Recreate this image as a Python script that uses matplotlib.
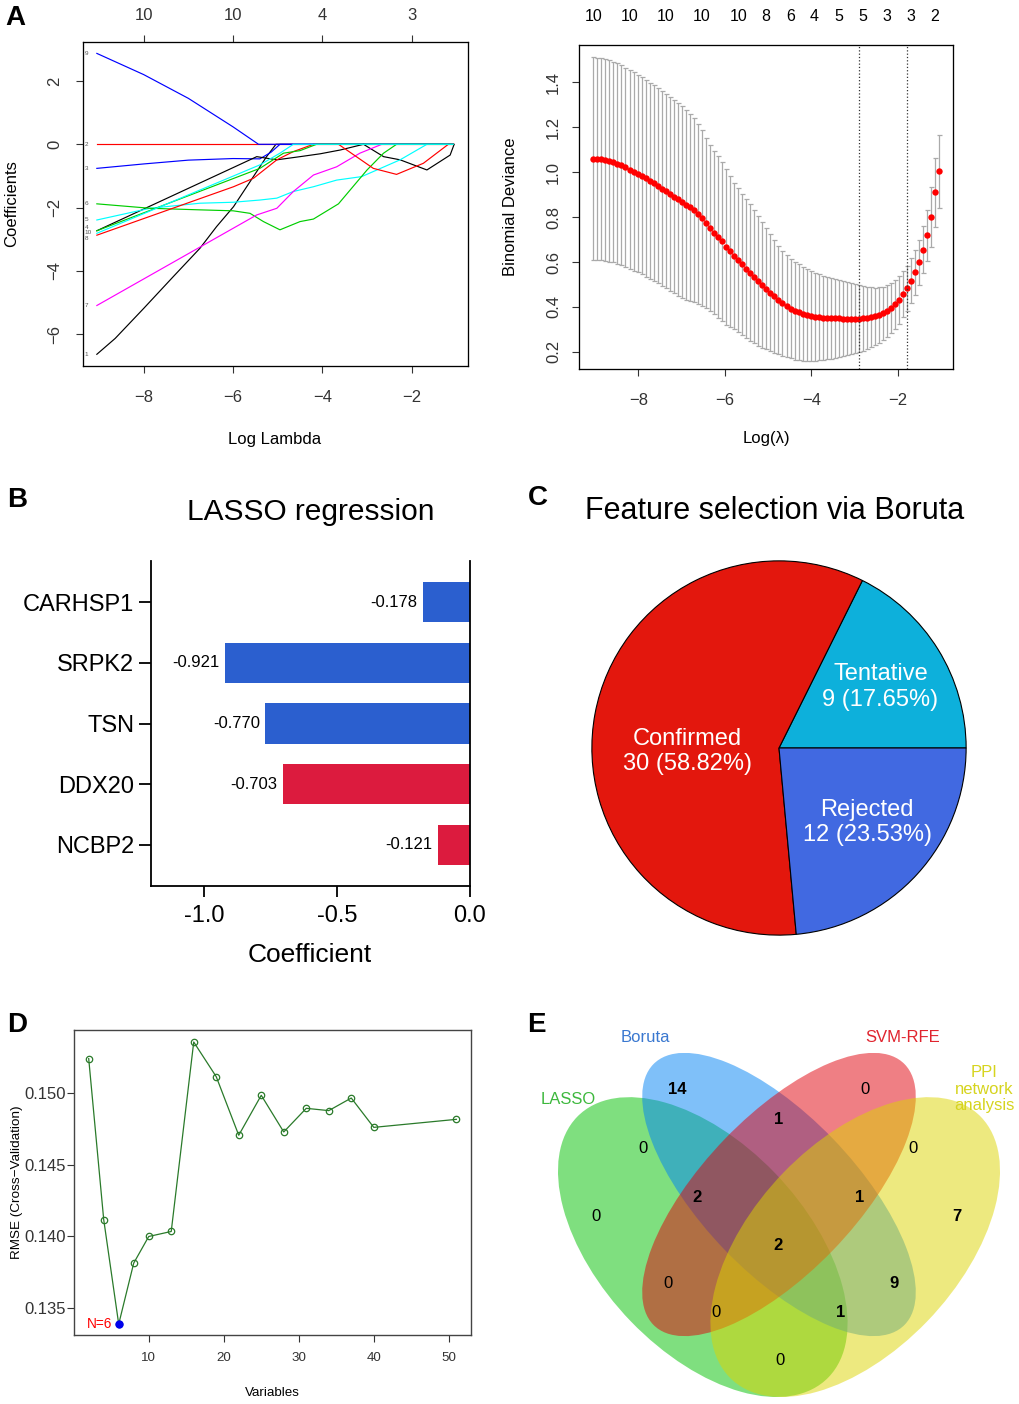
import matplotlib
matplotlib.use('Agg')
import matplotlib.pyplot as plt
from matplotlib.patches import Ellipse

plt.rcParams['font.family'] = ['Liberation Sans', 'DejaVu Sans']
plt.rcParams['axes.unicode_minus'] = True

# ---------------- data ----------------
# A (left): lasso coefficient paths, (log lambda, coefficient) knots per variable
path_x = [
    [-9.05, -8.64, -8.0, -7.34, -6.74, -6.37, -5.99, -5.62, -5.25, -5.04, -1.07],
    [-9.05, -1.07],
    [-9.05, -8.0, -7.0, -6.0, -5.4, -5.15, -4.95, -1.07],
    [-9.05, -5.47, -5.02, -4.5, -4.05, -3.6, -3.08, -2.63, -2.26, -1.66, -1.14, -1.05],
    [-9.05, -7.86, -6.74, -6.0, -5.4, -5.02, -4.65, -4.2, -3.68, -3.12, -2.26, -1.66, -1.07],
    [-9.05, -7.86, -6.74, -6.0, -5.62, -5.32, -4.95, -4.5, -4.2, -3.64, -3.0, -2.63, -2.34, -1.07],
    [-9.05, -5.47, -5.02, -4.65, -4.2, -3.68, -3.16, -2.67, -1.07],
    [-9.05, -5.99, -5.54, -5.02, -4.65, -4.2, -3.64, -2.86, -2.34, -1.74, -1.18, -1.07],
    [-9.05, -8.0, -7.0, -6.0, -5.43, -1.07],
    [-9.05, -5.4, -4.87, -4.5, -4.13, -1.07],
    [-9.05, -5.4, -4.95, -4.65, -1.07],
]
path_y = [
    [-6.63, -6.13, -5.18, -4.18, -3.28, -2.6, -1.97, -1.18, -0.39, 0.0, 0.0],
    [0.0, 0.0],
    [-0.76, -0.62, -0.5, -0.45, -0.46, -0.25, 0.0, 0.0],
    [-2.73, -0.39, -0.49, -0.39, -0.3, -0.18, 0.0, -0.39, -0.49, -0.81, -0.34, 0.0],
    [-2.39, -2.02, -1.86, -1.83, -1.76, -1.7, -1.49, -1.34, -1.13, -1.02, -0.49, 0.0, 0.0],
    [-1.88, -2.02, -2.07, -2.1, -2.18, -2.44, -2.7, -2.44, -2.36, -1.88, -0.81, -0.28, 0.0, 0.0],
    [-5.09, -2.23, -2.02, -1.49, -0.97, -0.71, -0.28, 0.0, 0.0],
    [-2.87, -1.34, -1.07, -0.49, -0.23, 0.0, 0.0, -0.76, -0.95, -0.6, 0.0, 0.0],
    [2.87, 2.2, 1.45, 0.55, 0.0, 0.0],
    [-2.73, -0.76, -0.28, -0.2, 0.0, 0.0],
    [-2.81, -0.65, -0.28, 0.0, 0.0],
]
path_colors = ['black', 'red', 'blue', 'black', 'cyan', '#00CD00', 'magenta',
               'red', 'blue', '#00CD00', 'cyan']
path_labels = ['1', '2', '3', '4', '5', '6', '7', '8', '9', '10', '']
top_df_left = ['10', '10', '4', '3']

# A (right): cross-validated binomial deviance
log_lambda = [
    -9.040, -8.947, -8.854, -8.761, -8.668, -8.575, -8.482, -8.389, -8.296, -8.203,
    -8.110, -8.017, -7.924, -7.831, -7.738, -7.645, -7.552, -7.459, -7.366, -7.273,
    -7.180, -7.087, -6.994, -6.901, -6.808, -6.715, -6.622, -6.529, -6.436, -6.343,
    -6.250, -6.157, -6.064, -5.971, -5.878, -5.785, -5.692, -5.599, -5.506, -5.413,
    -5.320, -5.227, -5.134, -5.041, -4.948, -4.855, -4.762, -4.669, -4.576, -4.483,
    -4.390, -4.297, -4.204, -4.111, -4.018, -3.925, -3.832, -3.739, -3.646, -3.553,
    -3.460, -3.367, -3.274, -3.181, -3.088, -2.995, -2.902, -2.809, -2.716, -2.623,
    -2.530, -2.437, -2.344, -2.251, -2.158, -2.065, -1.972, -1.879, -1.786, -1.693,
    -1.600, -1.507, -1.414, -1.321, -1.228, -1.135, -1.042]
cv_mean = [
    1.060, 1.059, 1.057, 1.054, 1.050, 1.045, 1.038, 1.030, 1.021, 1.011,
    1.002, 0.994, 0.984, 0.973, 0.962, 0.950, 0.939, 0.927, 0.915, 0.903,
    0.891, 0.879, 0.867, 0.855, 0.843, 0.831, 0.815, 0.796, 0.774, 0.752,
    0.731, 0.711, 0.692, 0.668, 0.648, 0.628, 0.609, 0.590, 0.571, 0.553,
    0.535, 0.517, 0.499, 0.481, 0.464, 0.447, 0.431, 0.417, 0.404, 0.393,
    0.384, 0.376, 0.370, 0.365, 0.361, 0.357, 0.354, 0.352, 0.351, 0.350,
    0.349, 0.349, 0.348, 0.348, 0.348, 0.348, 0.348, 0.349, 0.351, 0.354,
    0.358, 0.364, 0.372, 0.382, 0.395, 0.412, 0.433, 0.458, 0.484, 0.517,
    0.554, 0.599, 0.655, 0.719, 0.800, 0.911, 1.003]
cv_sd = [
    0.451, 0.451, 0.450, 0.449, 0.448, 0.447, 0.446, 0.445, 0.444, 0.443,
    0.442, 0.440, 0.439, 0.438, 0.437, 0.436, 0.434, 0.433, 0.432, 0.431,
    0.430, 0.429, 0.427, 0.423, 0.418, 0.410, 0.400, 0.390, 0.378, 0.370,
    0.364, 0.360, 0.355, 0.346, 0.335, 0.325, 0.320, 0.315, 0.310, 0.304,
    0.297, 0.290, 0.280, 0.270, 0.260, 0.250, 0.240, 0.233, 0.227, 0.222,
    0.218, 0.214, 0.210, 0.205, 0.200, 0.196, 0.192, 0.188, 0.184, 0.180,
    0.176, 0.172, 0.168, 0.163, 0.158, 0.153, 0.148, 0.143, 0.138, 0.133,
    0.128, 0.123, 0.118, 0.114, 0.111, 0.109, 0.107, 0.104, 0.100, 0.099,
    0.099, 0.100, 0.104, 0.114, 0.132, 0.154, 0.163]
lambda_min = -2.90
lambda_1se = -1.79
top_df_x = [-9.04, -8.20, -7.37, -6.53, -5.69, -5.05, -4.49, -3.94, -3.37, -2.82, -2.26, -1.70, -1.15]
top_df_right = ['10', '10', '10', '10', '10', '8', '6', '4', '5', '5', '3', '3', '2']

# B: LASSO coefficients
genes = ['CARHSP1', 'SRPK2', 'TSN', 'DDX20', 'NCBP2']
coefs = [-0.178, -0.921, -0.770, -0.703, -0.121]
bar_colors = ['#2B5FCF', '#2B5FCF', '#2B5FCF', '#DC1B3E', '#DC1B3E']

# C: Boruta decisions
pie_labels = ['Tentative', 'Confirmed', 'Rejected']
pie_counts = [9, 30, 12]
pie_pct = ['17.65%', '58.82%', '23.53%']
pie_colors = ['#0DB0DB', '#E3170D', '#4169E1']

# D: SVM-RFE
n_vars = [2, 4, 6, 8, 10, 13, 16, 19, 22, 25, 28, 31, 34, 37, 40, 51]
rmse = [0.15240, 0.14116, 0.13386, 0.13812, 0.13998, 0.14033, 0.15356, 0.15114,
        0.14705, 0.14984, 0.14728, 0.14893, 0.14877, 0.14965, 0.14760, 0.14816]
best_n = 6

# E: Venn region counts
venn_sets = ['LASSO', 'Boruta', 'SVM-RFE', 'PPI\nnetwork\nanalysis']
venn_counts = [0, 14, 0, 7, 0, 1, 0, 2, 1, 2, 0, 9, 0, 1, 0]

# ---------------- figure ----------------
W, H = 1020, 1404
fig = plt.figure(figsize=(W / 100, H / 100), dpi=100)


def px_axes(l, t, r, b):
    return fig.add_axes([l / W, 1 - b / H, (r - l) / W, (b - t) / H])


def ftext(x, y, s, **kw):
    return fig.text(x / W, 1 - y / H, s, **kw)


for lab, x, y in [('A', 5, 25), ('B', 7, 507), ('C', 528, 505), ('D', 7, 1032), ('E', 527, 1032)]:
    ftext(x, y, lab, fontsize=20, fontweight='bold', va='baseline')

box_col = '#333333'

# ---- A left
ax = px_axes(83, 42, 468, 366)
for xs, ys, c in zip(path_x, path_y, path_colors):
    ax.plot(xs, ys, color=c, lw=0.85)
# variable numbers at the left edge; the crowded group near -2.8 is fanned out slightly
lab_y = [-6.63, 0.0, -0.76, -2.62, -2.39, -1.88, -5.09, -2.98, 2.87, -2.80, None]
for lab, ly in zip(path_labels, lab_y):
    if lab:
        ax.text(-9.33, ly, lab, fontsize=4.6, color='#555555', va='center', ha='left')
ax.set_xlim(-9.36, -0.74)
ax.set_ylim(-7.0, 3.23)
ax.set_xticks([-8, -6, -4, -2])
ax.set_yticks([-6, -4, -2, 0, 2])
ax.set_yticklabels(['\u22126', '\u22124', '\u22122', '0', '2'], rotation=90, va='center')
ax.tick_params(direction='out', length=5, width=0.8, labelsize=12, colors=box_col)
ax.tick_params(axis='x', pad=12)
ax.tick_params(axis='y', pad=10)
for s in ax.spines.values():
    s.set_color(box_col)
    s.set_linewidth(0.9)
axt = ax.twiny()
axt.set_xlim(ax.get_xlim())
axt.set_xticks([-8, -6, -4, -2])
axt.set_xticklabels(top_df_left)
axt.tick_params(direction='out', length=5, width=0.8, labelsize=12, pad=9, colors=box_col)
ftext(275, 439, 'Log Lambda', fontsize=12, ha='center', va='center')
ftext(12, 204, 'Coefficients', fontsize=12, ha='center', va='center', rotation=90)

# ---- A right
ax2 = px_axes(579, 45, 953, 369)
ax2.errorbar(log_lambda, cv_mean, yerr=cv_sd, fmt='none', ecolor='#AAAAAA',
             elinewidth=0.9, capsize=1.8, capthick=0.9)
ax2.plot(log_lambda, cv_mean, 'o', color='red', ms=4.6, mec='red', mew=0)
ax2.axvline(lambda_min, color='#333333', ls=':', lw=0.9)
ax2.axvline(lambda_1se, color='#333333', ls=':', lw=0.9)
ax2.set_xlim(-9.37, -0.73)
ax2.set_ylim(0.124, 1.566)
ax2.set_xticks([-8, -6, -4, -2])
ax2.set_yticks([0.2, 0.4, 0.6, 0.8, 1.0, 1.2, 1.4])
ax2.set_yticklabels(['0.2', '0.4', '0.6', '0.8', '1.0', '1.2', '1.4'], rotation=90, va='center')
ax2.tick_params(direction='out', length=5, width=0.8, labelsize=12, colors=box_col)
ax2.tick_params(axis='x', pad=12)
ax2.tick_params(axis='y', pad=8)
for s in ax2.spines.values():
    s.set_color(box_col)
    s.set_linewidth(0.9)
ax2t = ax2.twiny()
ax2t.set_xlim(ax2.get_xlim())
ax2t.set_xticks(top_df_x)
ax2t.set_xticklabels(top_df_right)
ax2t.tick_params(length=0, labelsize=11.5, pad=15)
ftext(766, 438, 'Log(\u03bb)', fontsize=12, ha='center', va='center')
ftext(511, 207, 'Binomial Deviance', fontsize=12, ha='center', va='center', rotation=90)

# ---- B
axb = px_axes(151, 561, 470, 886)
ypos = list(range(len(genes)))
axb.barh(ypos, coefs, height=0.665, color=bar_colors)
for i, v in enumerate(coefs):
    axb.annotate(f'{v:.3f}', (v, i), xytext=(-4, 0), textcoords='offset points',
                 ha='right', va='center', fontsize=12)
axb.set_xlim(-1.2, 0)
axb.set_ylim(4.68, -0.68)
axb.set_yticks(ypos)
axb.set_yticklabels(genes)
axb.set_xticks([-1.0, -0.5, 0.0])
axb.set_xticklabels(['-1.0', '-0.5', '0.0'])
axb.spines['top'].set_visible(False)
for s in ['left', 'bottom', 'right']:
    axb.spines[s].set_linewidth(1.3)
axb.tick_params(axis='x', direction='out', length=8, width=1.3, labelsize=17, pad=6)
axb.tick_params(axis='y', direction='out', length=9, width=1.3, labelsize=17, pad=3)
ftext(311, 512, 'LASSO regression', fontsize=21.5, ha='center', va='center')
ftext(310, 955, 'Coefficient', fontsize=19, ha='center', va='center')

# ---- C
axc = px_axes(590, 559, 968, 937)
axc.pie(pie_counts, colors=pie_colors, startangle=0, counterclock=True, radius=1,
        wedgeprops=dict(edgecolor='black', linewidth=0.8))
axc.set_xlim(-1.01, 1.01)
axc.set_ylim(-1.01, 1.01)
axc.set_aspect('equal')
pie_text_pos = [(0.542, 0.326), (-0.49, -0.018), (0.471, -0.397)]
for (tx, ty), lab, n, p in zip(pie_text_pos, pie_labels, pie_counts, pie_pct):
    axc.text(tx, ty, f'{lab}\n{n} ({p})', color='white', fontsize=17,
             ha='center', va='center', linespacing=1.2)
ftext(775, 511, 'Feature selection via Boruta', fontsize=22, ha='center', va='center')

# ---- D
axd = px_axes(74, 1030, 471, 1335)
axd.plot(n_vars, rmse, '-o', color='#2A7A2A', lw=0.9, ms=4.6, mfc='none', mew=0.9)
bi = n_vars.index(best_n)
axd.plot(n_vars[bi], rmse[bi], 'o', color='#0000EE', ms=5)
axd.annotate(f'N={best_n}', (n_vars[bi], rmse[bi]), xytext=(-5, 0), textcoords='offset points',
             ha='right', va='center', color='red', fontsize=9.8)
axd.set_xlim(0.04, 52.96)
axd.set_ylim(0.1331, 0.1544)
axd.set_xticks([10, 20, 30, 40, 50])
axd.set_yticks([0.135, 0.140, 0.145, 0.150])
axd.set_yticklabels(['0.135', '0.140', '0.145', '0.150'])
axd.tick_params(axis='x', direction='out', length=5, width=0.8, labelsize=9.6, pad=7, colors=box_col)
axd.tick_params(axis='y', direction='out', length=5, width=0.8, labelsize=12, pad=1, colors=box_col)
for s in axd.spines.values():
    s.set_color('#444444')
    s.set_linewidth(1.0)
ftext(272, 1393, 'Variables', fontsize=9.6, ha='center', va='center')
ftext(17, 1182, 'RMSE (Cross\u2212Validation)', fontsize=9.7, ha='center', va='center', rotation=90)

# ---- E
axe = px_axes(558, 1053, 1000, 1397)
axe.set_xlim(0.065, 0.935)
axe.set_ylim(0.185, 0.839)
axe.axis('off')
ell = [((0.35, 0.47), 0.35, 0.20, 135, '#00C100'),
       ((0.50, 0.57), 0.35, 0.15, 135, '#0082F5'),
       ((0.50, 0.57), 0.35, 0.15, 45, '#E1000A'),
       ((0.65, 0.47), 0.35, 0.20, 45, '#DDD500')]
for (cx, cy), a, b, ang, col in ell:
    axe.add_patch(Ellipse((cx, cy), 2 * a, 2 * b, angle=ang, facecolor=col,
                          alpha=0.5, edgecolor='none'))
region_pos = [(0.140, 0.529), (0.299, 0.769), (0.669, 0.769), (0.850, 0.529),
              (0.233, 0.657), (0.499, 0.713), (0.764, 0.657), (0.338, 0.565),
              (0.659, 0.565), (0.499, 0.473), (0.281, 0.400), (0.726, 0.400),
              (0.376, 0.346), (0.621, 0.346), (0.501, 0.254)]
for (rx, ry), n in zip(region_pos, venn_counts):
    axe.text(rx, ry, str(n), fontsize=12, ha='center', va='center',
             fontweight='bold' if n > 0 else 'normal')
set_text = [(568, 1100, '#3DB83D'), (645, 1038, '#3A78D0'), (903, 1038, '#E0242E'),
            (984, 1089, '#D6D41E')]
for (tx, ty, col), lab in zip(set_text, venn_sets):
    ftext(tx, ty, lab, fontsize=12, color=col, ha='center', va='center', linespacing=1.15)

fig.savefig('out.png', dpi=100)
